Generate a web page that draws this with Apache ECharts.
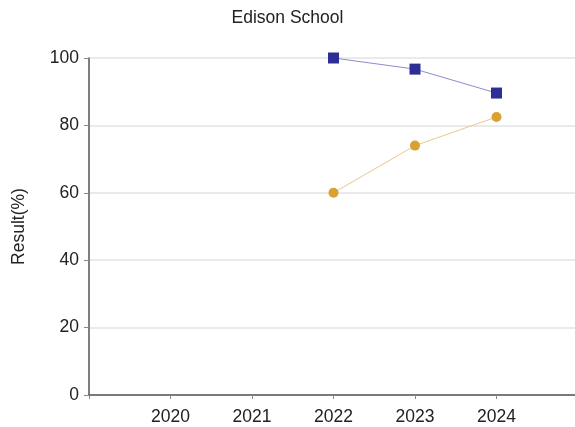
<!DOCTYPE html>
<html>
<head>
<meta charset="utf-8">
<script src="https://cdn.jsdelivr.net/npm/echarts@6/dist/echarts.min.js"></script>
<style>html,body{margin:0;padding:0;background:#fff}#c{width:575px;height:427px}</style>
</head>
<body>
<div id="c"></div>
<script>
var years = [2022, 2023, 2024];
var seriesA = [100, 96.7, 89.6];
var seriesB = [60, 74, 82.5];
var yTicks = [0, 20, 40, 60, 80, 100];
var xLabels = [2020, 2021, 2022, 2023, 2024];

function pairs(xs, ys) { return xs.map(function (x, i) { return [x, ys[i]]; }); }

var chart = echarts.init(document.getElementById('c'), null, {renderer: 'canvas'});
var font = 'Liberation Sans, Arial, sans-serif';
chart.setOption({
  animation: false,
  backgroundColor: '#fff',
  title: {
    text: 'Edison School', left: 'center', top: 4,
    textStyle: {fontFamily: font, fontSize: 17.5, fontWeight: 'normal', color: '#222'}
  },
  grid: {left: 89, width: 489, top: 58, bottom: 32, outerBoundsMode: 'none', containLabel: false},
  xAxis: {
    type: 'value', min: 2019, max: 2025, interval: 1,
    axisLine: {lineStyle: {color: '#555', width: 1.5}},
    axisTick: {show: true, length: 4, lineStyle: {color: '#888'}},
    splitLine: {show: false},
    axisLabel: {
      fontFamily: font, fontSize: 17.5, color: '#222', margin: 13,
      formatter: function (v) { return xLabels.indexOf(v) >= 0 ? String(v) : ''; }
    }
  },
  yAxis: {
    type: 'value', min: 0, max: 100, interval: 20,
    name: 'Result(%)', nameLocation: 'middle', nameGap: 61, nameRotate: 90,
    nameTextStyle: {fontFamily: font, fontSize: 17.5, color: '#222'},
    axisLine: {show: true, lineStyle: {color: '#555', width: 1.5}},
    axisTick: {show: true, length: 5, lineStyle: {color: '#888'}},
    splitLine: {lineStyle: {color: '#e3e3e3', width: 1.5}},
    axisLabel: {
      fontFamily: font, fontSize: 17.5, color: '#222', margin: 10,
      formatter: function (v) { return yTicks.indexOf(v) >= 0 ? String(v) : ''; }
    }
  },
  series: [
    {
      type: 'line', data: pairs(years, seriesA), symbol: 'rect', symbolSize: 11,
      itemStyle: {color: '#2e2f96'},
      lineStyle: {color: '#8a8cd0', width: 1}
    },
    {
      type: 'line', data: pairs(years, seriesB), symbol: 'circle', symbolSize: 10,
      itemStyle: {color: '#d9a032'},
      lineStyle: {color: '#ecc88a', width: 1}
    }
  ]
});
</script>
</body>
</html>
